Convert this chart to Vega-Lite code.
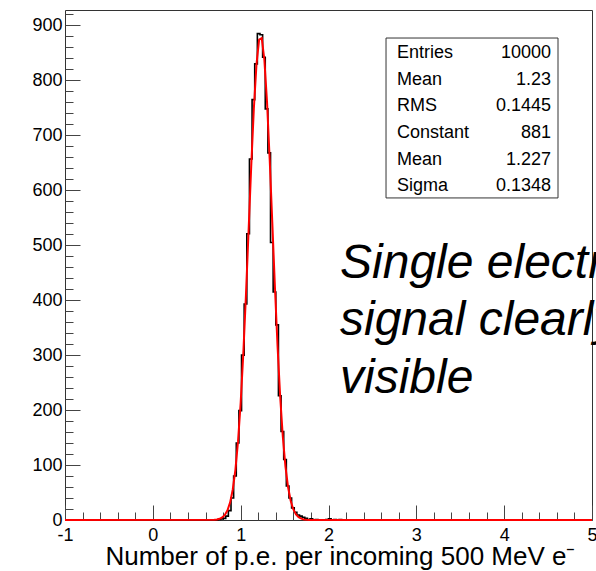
{
  "$schema": "https://vega.github.io/schema/vega-lite/v6.json",
  "width": 527,
  "height": 510,
  "autosize": {"type": "none"},
  "padding": {"left": 65, "top": 10, "right": 4, "bottom": 51},
  "background": "white",
  "config": {
    "font": "Liberation Sans",
    "view": {"stroke": "#333", "strokeWidth": 1},
    "axis": {"grid": false, "domain": false, "labelFlush": false, "labelOverlap": false, "tickColor": "#444", "tickWidth": 1}
  },
  "datasets": {
    "hist": [
      {"x": -1, "n": 0},
      {"x": 0.74, "n": 1},
      {"x": 0.77, "n": 2},
      {"x": 0.80, "n": 3},
      {"x": 0.83, "n": 7},
      {"x": 0.86, "n": 17},
      {"x": 0.89, "n": 40},
      {"x": 0.92, "n": 80},
      {"x": 0.95, "n": 140},
      {"x": 0.98, "n": 199},
      {"x": 1.01, "n": 300},
      {"x": 1.04, "n": 393},
      {"x": 1.07, "n": 521},
      {"x": 1.10, "n": 657},
      {"x": 1.13, "n": 765},
      {"x": 1.16, "n": 830},
      {"x": 1.19, "n": 885},
      {"x": 1.22, "n": 883},
      {"x": 1.25, "n": 842},
      {"x": 1.28, "n": 748},
      {"x": 1.31, "n": 668},
      {"x": 1.34, "n": 505},
      {"x": 1.37, "n": 415},
      {"x": 1.40, "n": 355},
      {"x": 1.43, "n": 226},
      {"x": 1.46, "n": 161},
      {"x": 1.49, "n": 110},
      {"x": 1.52, "n": 62},
      {"x": 1.55, "n": 40},
      {"x": 1.58, "n": 22},
      {"x": 1.61, "n": 14},
      {"x": 1.64, "n": 9},
      {"x": 1.67, "n": 7},
      {"x": 1.70, "n": 5},
      {"x": 1.73, "n": 3},
      {"x": 1.76, "n": 1},
      {"x": 1.79, "n": 2},
      {"x": 1.82, "n": 0},
      {"x": 1.85, "n": 1},
      {"x": 1.88, "n": 0},
      {"x": 1.97, "n": 1},
      {"x": 2.00, "n": 2},
      {"x": 2.03, "n": 0},
      {"x": 2.06, "n": 1},
      {"x": 2.09, "n": 0},
      {"x": 2.12, "n": 1},
      {"x": 2.15, "n": 0},
      {"x": 5, "n": 0}
    ],
    "fit": [
      {"x": -1, "f": 0},
      {"x": 0.70, "f": 0.42},
      {"x": 0.73, "f": 0.98},
      {"x": 0.76, "f": 2.18},
      {"x": 0.79, "f": 4.6},
      {"x": 0.82, "f": 9.24},
      {"x": 0.85, "f": 17.6},
      {"x": 0.88, "f": 32.1},
      {"x": 0.91, "f": 55.5},
      {"x": 0.94, "f": 91.3},
      {"x": 0.97, "f": 143.0},
      {"x": 1.00, "f": 213.4},
      {"x": 1.03, "f": 302.8},
      {"x": 1.06, "f": 409.0},
      {"x": 1.09, "f": 525.6},
      {"x": 1.12, "f": 642.9},
      {"x": 1.15, "f": 748.3},
      {"x": 1.18, "f": 829.0},
      {"x": 1.21, "f": 874.0},
      {"x": 1.24, "f": 876.9},
      {"x": 1.27, "f": 837.3},
      {"x": 1.30, "f": 760.8},
      {"x": 1.33, "f": 657.9},
      {"x": 1.36, "f": 541.5},
      {"x": 1.39, "f": 424.0},
      {"x": 1.42, "f": 316.1},
      {"x": 1.45, "f": 224.3},
      {"x": 1.48, "f": 151.5},
      {"x": 1.51, "f": 97.3},
      {"x": 1.54, "f": 59.5},
      {"x": 1.57, "f": 34.6},
      {"x": 1.60, "f": 19.2},
      {"x": 1.63, "f": 10.1},
      {"x": 1.66, "f": 5.07},
      {"x": 1.69, "f": 2.41},
      {"x": 1.72, "f": 1.1},
      {"x": 1.75, "f": 0.47},
      {"x": 1.78, "f": 0.2},
      {"x": 5, "f": 0}
    ]
  },
  "layer": [
    {
      "data": {"name": "hist"},
      "mark": {"type": "line", "interpolate": "step-after", "color": "#000", "strokeWidth": 1.6},
      "encoding": {
        "x": {
          "field": "x", "type": "quantitative",
          "scale": {"domain": [-1, 5], "nice": false, "zero": false},
          "axis": {
            "orient": "bottom", "ticks": false, "values": [-1, 0, 1, 2, 3, 4, 5],
            "labelExpr": "toString(datum.value)", "labelFontSize": 18, "labelColor": "#000", "labelPadding": 6,
            "title": "Number of p.e. per incoming 500 MeV e⁻", "titleFontSize": 26, "titleFontWeight": "normal",
            "titleColor": "#000", "titleX": 510, "titleY": 44, "titleAlign": "right", "titleBaseline": "alphabetic"
          }
        },
        "y": {
          "field": "n", "type": "quantitative",
          "scale": {"domain": [0, 928], "nice": false, "zero": true},
          "axis": {
            "orient": "left", "ticks": false, "values": [0, 100, 200, 300, 400, 500, 600, 700, 800, 900],
            "labelExpr": "toString(datum.value)", "labelFontSize": 18, "labelColor": "#000", "labelPadding": 3,
            "title": null
          }
        }
      }
    },
    {
      "data": {"name": "fit"},
      "mark": {"type": "line", "color": "#ff0000", "strokeWidth": 2},
      "encoding": {
        "x": {
          "field": "x", "type": "quantitative",
          "scale": {"domain": [-1, 5], "nice": false, "zero": false},
          "axis": {"orient": "top", "offset": -510, "labels": false, "tickSize": 15, "values": [-1, 0, 1, 2, 3, 4, 5], "title": null}
        },
        "y": {
          "field": "f", "type": "quantitative",
          "scale": {"domain": [0, 928], "nice": false, "zero": true},
          "axis": {"orient": "right", "offset": -527, "labels": false, "tickSize": 15, "values": [0, 100, 200, 300, 400, 500, 600, 700, 800, 900], "title": null}
        }
      }
    },
    {
      "data": {"values": [{}]},
      "mark": {"type": "rect", "fill": "white", "stroke": "#333", "strokeWidth": 1},
      "encoding": {
        "x": {
          "datum": 2.655, "type": "quantitative",
          "scale": {"domain": [-1, 5], "nice": false, "zero": false},
          "axis": {"orient": "top", "offset": -510, "labels": false, "tickSize": 8, "title": null,
            "values": [-0.8, -0.6, -0.4, -0.2, 0.2, 0.4, 0.6, 0.8, 1.2, 1.4, 1.6, 1.8, 2.2, 2.4, 2.6, 2.8, 3.2, 3.4, 3.6, 3.8, 4.2, 4.4, 4.6, 4.8]}
        },
        "x2": {"datum": 4.613},
        "y": {
          "datum": 586, "type": "quantitative",
          "scale": {"domain": [0, 928], "nice": false, "zero": true},
          "axis": {"orient": "right", "offset": -527, "labels": false, "tickSize": 8, "title": null,
            "values": [20, 40, 60, 80, 120, 140, 160, 180, 220, 240, 260, 280, 320, 340, 360, 380, 420, 440, 460, 480, 520, 540, 560, 580, 620, 640, 660, 680, 720, 740, 760, 780, 820, 840, 860, 880, 920]}
        },
        "y2": {"datum": 877}
      }
    },
    {
      "data": {"values": [{}]},
      "mark": {"type": "text", "text": "Entries\nMean\nRMS\nConstant\nMean\nSigma", "lineBreak": "\n", "lineHeight": 26.7,
        "align": "left", "baseline": "middle", "fontSize": 18, "color": "#000", "font": "Liberation Sans"},
      "encoding": {
        "x": {"datum": 2.78, "type": "quantitative", "scale": {"domain": [-1, 5], "nice": false, "zero": false}, "axis": null},
        "y": {"datum": 849.8, "type": "quantitative", "scale": {"domain": [0, 928], "nice": false, "zero": true}, "axis": null}
      }
    },
    {
      "data": {"values": [{}]},
      "mark": {"type": "text", "text": "10000\n1.23\n0.1445\n881\n1.227\n0.1348", "lineBreak": "\n", "lineHeight": 26.7,
        "align": "right", "baseline": "middle", "fontSize": 18, "color": "#000", "font": "Liberation Sans"},
      "encoding": {
        "x": {"datum": 4.533, "type": "quantitative", "scale": {"domain": [-1, 5], "nice": false, "zero": false}, "axis": null},
        "y": {"datum": 849.8, "type": "quantitative", "scale": {"domain": [0, 928], "nice": false, "zero": true}, "axis": null}
      }
    },
    {
      "data": {"values": [{}]},
      "mark": {"type": "text", "text": "Single electron\nsignal clearly\nvisible", "lineBreak": "\n", "lineHeight": 57.5,
        "align": "left", "baseline": "middle", "fontSize": 48, "fontStyle": "italic", "color": "#000", "font": "Liberation Sans"},
      "encoding": {
        "x": {"datum": 2.131, "type": "quantitative", "scale": {"domain": [-1, 5], "nice": false, "zero": false}, "axis": null},
        "y": {"datum": 466.4, "type": "quantitative", "scale": {"domain": [0, 928], "nice": false, "zero": true}, "axis": null}
      }
    }
  ],
  "resolve": {"axis": {"x": "independent", "y": "independent"}}
}
